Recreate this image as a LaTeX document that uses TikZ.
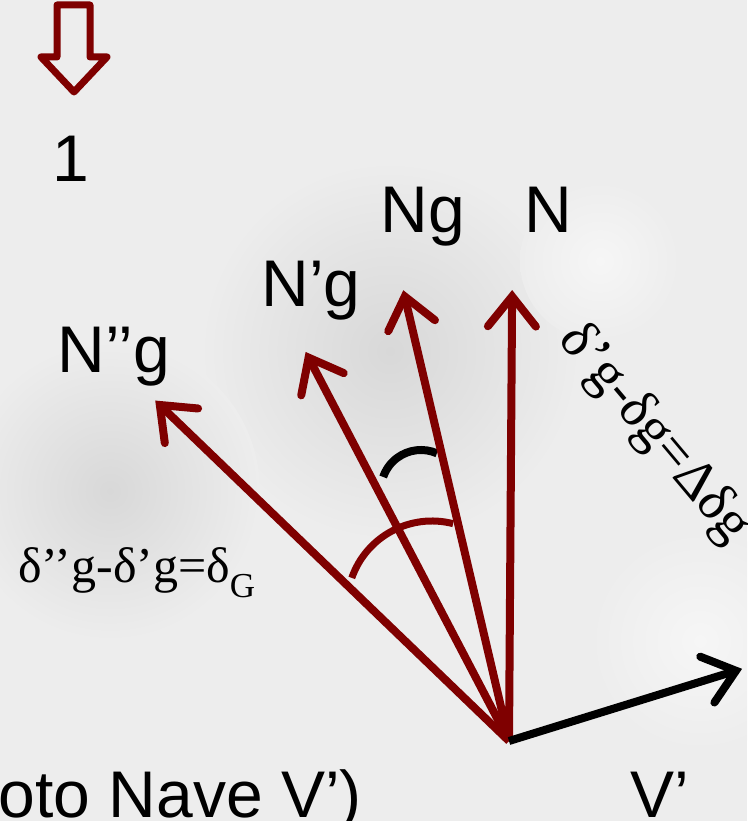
\documentclass[tikz,border=0pt]{standalone}
\usepackage{fontspec}
\setmainfont{Liberation Serif}
\newfontfamily\arialf{Liberation Sans}
\usetikzlibrary{arrows.meta,calc}
\definecolor{bgc}{HTML}{EDEDED}
\definecolor{cloud}{HTML}{D8D8D8}
\definecolor{lightc}{HTML}{F6F6F6}
\definecolor{dred}{HTML}{7F0000}
\tikzset{
  vec/.style={draw=dred, line width=8pt,
    -{Straight Barb[length=30pt,width=48pt,line cap=round,line join=miter]}},
  blackvec/.style={draw=black, line width=8pt,
    -{Straight Barb[length=30pt,width=48pt,line cap=round,line join=miter]}},
  anglearc/.style={draw=dred, line width=7pt},
  blackarc/.style={draw=black, line width=8pt},
  sanslabel/.style={inner sep=0pt, anchor=base, font=\arialf\fontsize{66}{70}\selectfont},
  seriflabel/.style={inner sep=0pt, font=\fontsize{50}{54}\selectfont},
}
\begin{document}
\begin{tikzpicture}[x=1pt,y=1pt]
\useasboundingbox (0,0) rectangle (747,821);
\clip (0,0) rectangle (747,821);
\fill[bgc] (0,0) rectangle (747,821);
% soft cloud texture
\shade[inner color=cloud, outer color=bgc] (390,470) circle (190);
\shade[inner color=cloud, outer color=bgc] (110,330) circle (150);
\shade[inner color=lightc, outer color=bgc] (600,560) circle (80);
\shade[inner color=lightc, outer color=bgc] (700,180) circle (110);
% origin and tips
\coordinate (O) at (509,80);
\coordinate (tN) at ($(O)+(89.6:451)$);
\coordinate (tNg) at ($(O)+(103.2:463)$);
\coordinate (tN1g) at ($(O)+(117.6:439)$);
\coordinate (tN2g) at ($(O)+(136.1:491)$);
\coordinate (tV) at ($(O)+(17.2:244)$);
% angle arcs
\coordinate (cR) at (432,215);
\coordinate (cB) at (421,331);
\draw[anglearc] ($(cR)+(75.6:85)$) arc[start angle=75.6, end angle=160.7, radius=85];
\draw[blackarc] ($(cB)+(66.6:40)$) arc[start angle=66.6, end angle=161, radius=40];
% vectors
\draw[vec] (O) -- (tN);
\draw[vec] (O) -- (tNg);
\draw[vec] (O) -- (tN1g);
\draw[vec] (O) -- (tN2g);
\draw[blackvec] (O) -- (tV);
% top marker arrow
\draw[draw=dred, line width=7pt, line join=round, fill=none]
  (57,816) -- (90,816) -- (90,764) -- (107,764) -- (74,729) -- (41,764) -- (57,764) -- cycle;
% labels
\node[sanslabel] (one) at (71,639) {1};
\node[sanslabel] (lNg) at (423,588) {Ng};
\node[sanslabel] (lN) at (548,588) {N};
\node[sanslabel] (lN1g) at (311,514) {N’g};
\node[sanslabel] (lN2g) at (114,448) {N’’g};
\node[sanslabel] (lV) at (660,4) {V’};
\node[sanslabel, anchor=base east] (foto) at (362,4) {oto Nave V’)};
\node[seriflabel, anchor=base west] (dG) at (18,238) {δ’’g-δ’g=δ\textsubscript{G}};
\node[seriflabel, rotate=-50, font=\fontsize{56}{60}\selectfont] (dd) at (654,387) {δ’g-δg=Δδg};
\end{tikzpicture}
\end{document}
